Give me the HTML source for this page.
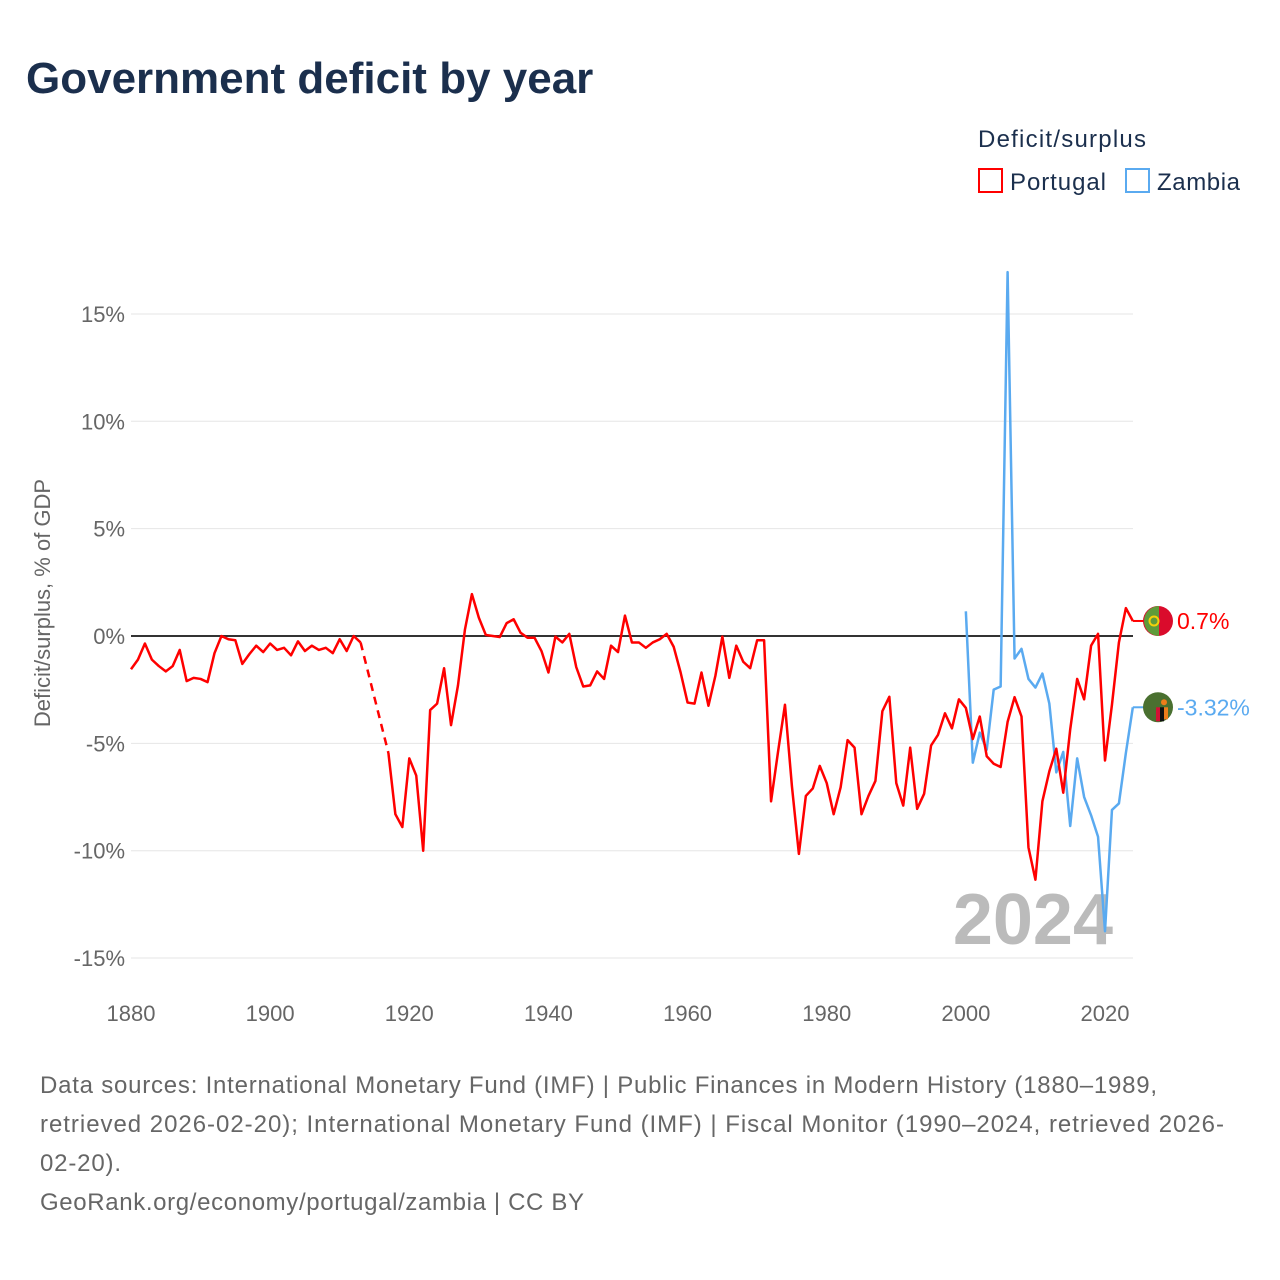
<!DOCTYPE html>
<html><head><meta charset="utf-8"><style>
body{margin:0;background:#fff;font-family:"Liberation Sans","DejaVu Sans",sans-serif;}
#wrap{position:relative;width:1280px;height:1280px;overflow:hidden;}
</style></head><body>
<div id="wrap">
<svg id="svg" width="1280" height="1280" viewBox="0 0 1280 1280">
<text x="26" y="93" font-size="44" font-weight="bold" fill="#1b2f4d">Government deficit by year</text>
<text x="978" y="147" font-size="24" fill="#1b2f4d" textLength="168">Deficit/surplus</text>
<g><rect x="979" y="169" width="23" height="23" fill="none" stroke="#ff0000" stroke-width="2"/><text x="1010" y="190" font-size="24" fill="#1b2f4d" textLength="96">Portugal</text></g>
<g><rect x="1126" y="169" width="23" height="23" fill="none" stroke="#5aaaf0" stroke-width="2"/><text x="1157" y="190" font-size="24" fill="#1b2f4d" textLength="83">Zambia</text></g>
<text transform="translate(50,603) rotate(-90)" text-anchor="middle" font-size="22" fill="#666">Deficit/surplus, % of GDP</text>
<g id="grid"></g><g id="xt"></g>
<text x="1113" y="944" text-anchor="end" font-size="72" font-weight="bold" fill="#bbb">2024</text>
<g id="series"></g>
<g id="ends"></g>
<text x="40" y="1093" font-size="24" fill="#666" textLength="1117">Data sources: International Monetary Fund (IMF) | Public Finances in Modern History (1880–1989,</text>
<text x="40" y="1132" font-size="24" fill="#666" textLength="1184">retrieved 2026-02-20); International Monetary Fund (IMF) | Fiscal Monitor (1990–2024, retrieved 2026-</text>
<text x="40" y="1171" font-size="24" fill="#666" textLength="81">02-20).</text>
<text x="40" y="1210" font-size="24" fill="#666" textLength="544">GeoRank.org/economy/portugal/zambia | CC BY</text>
</svg></div>
<script>
const yTicks=[15,10,5,0,-5,-10,-15];
const xTicks=[1880,1900,1920,1940,1960,1980,2000,2020];
const ptYears=[1880,1881,1882,1883,1884,1885,1886,1887,1888,1889,1890,1891,1892,1893,1894,1895,1896,1897,1898,1899,1900,1901,1902,1903,1904,1905,1906,1907,1908,1909,1910,1911,1912,1913,1917,1918,1919,1920,1921,1922,1923,1924,1925,1926,1927,1928,1929,1930,1931,1932,1933,1934,1935,1936,1937,1938,1939,1940,1941,1942,1943,1944,1945,1946,1947,1948,1949,1950,1951,1952,1953,1954,1955,1956,1957,1958,1959,1960,1961,1962,1963,1964,1965,1966,1967,1968,1969,1970,1971,1972,1973,1974,1975,1976,1977,1978,1979,1980,1981,1982,1983,1984,1985,1986,1987,1988,1989,1990,1991,1992,1993,1994,1995,1996,1997,1998,1999,2000,2001,2002,2003,2004,2005,2006,2007,2008,2009,2010,2011,2012,2013,2014,2015,2016,2017,2018,2019,2020,2021,2022,2023,2024];
const ptValues=[-1.55,-1.1,-0.35,-1.1,-1.4,-1.65,-1.4,-0.65,-2.1,-1.95,-2.0,-2.15,-0.8,0,-0.15,-0.2,-1.3,-0.85,-0.45,-0.75,-0.35,-0.65,-0.55,-0.9,-0.25,-0.7,-0.45,-0.65,-0.55,-0.8,-0.15,-0.7,0,-0.3,-5.45,-8.3,-8.9,-5.7,-6.5,-10,-3.45,-3.15,-1.5,-4.15,-2.3,0.3,1.95,0.85,0.05,0,-0.05,0.6,0.78,0.15,-0.08,-0.08,-0.7,-1.7,-0.03,-0.3,0.1,-1.45,-2.35,-2.3,-1.65,-2.0,-0.45,-0.75,0.95,-0.3,-0.3,-0.55,-0.3,-0.15,0.1,-0.5,-1.7,-3.1,-3.15,-1.7,-3.25,-1.85,-0.03,-1.95,-0.45,-1.2,-1.5,-0.2,-0.2,-7.7,-5.4,-3.2,-7,-10.15,-7.45,-7.1,-6.05,-6.85,-8.3,-7.05,-4.85,-5.2,-8.3,-7.45,-6.75,-3.5,-2.83,-6.85,-7.9,-5.2,-8.05,-7.35,-5.1,-4.6,-3.6,-4.3,-2.95,-3.35,-4.8,-3.75,-5.6,-5.95,-6.1,-4.0,-2.85,-3.75,-9.85,-11.35,-7.7,-6.3,-5.25,-7.3,-4.35,-2.0,-2.95,-0.45,0.1,-5.8,-3.2,-0.3,1.3,0.7];
const zmYears=[2000,2001,2002,2003,2004,2005,2006,2007,2008,2009,2010,2011,2012,2013,2014,2015,2016,2017,2018,2019,2020,2021,2022,2023,2024];
const zmValues=[1.15,-5.9,-4.5,-5.3,-2.5,-2.35,16.95,-1.05,-0.6,-2.0,-2.4,-1.75,-3.15,-6.35,-5.4,-8.85,-5.7,-7.5,-8.35,-9.35,-13.75,-8.1,-7.8,-5.45,-3.32];
const NS='http://www.w3.org/2000/svg';
const X=y=>131+(y-1880)*(974/140);
const Y=v=>636-v*21.47;
function mk(tag,attrs,parent){const e=document.createElementNS(NS,tag);for(const k in attrs)e.setAttribute(k,attrs[k]);parent.appendChild(e);return e;}
const grid=document.getElementById('grid'),xt=document.getElementById('xt'),ser=document.getElementById('series'),ends=document.getElementById('ends');
yTicks.forEach(t=>{
 const l=mk('line',{x1:131,x2:1133,y1:Y(t),y2:Y(t),stroke:t===0?'#333':'#e6e6e6','stroke-width':t===0?2:1},grid);
 
 
 const tx=mk('text',{x:125,y:Y(t)+8,'text-anchor':'end','font-size':22,fill:'#666'},grid);
 tx.textContent=t+'%';
 
 
});
xTicks.forEach(t=>{
 const tx=mk('text',{x:X(t),y:1021,'text-anchor':'middle','font-size':22,fill:'#666'},xt);
 tx.textContent=t;
 
 
});
function draw(years,vals,color,name){
 let seg=[[years[0],vals[0]]];const segs=[seg];const gaps=[];
 for(let i=1;i<years.length;i++){
  if(years[i]-years[i-1]>1){gaps.push([[years[i-1],vals[i-1]],[years[i],vals[i]]]);seg=[];segs.push(seg);}
  seg.push([years[i],vals[i]]);
 }
 segs.forEach(s=>{
  const p=mk('polyline',{points:s.map(d=>X(d[0])+','+Y(d[1])).join(' '),fill:'none',stroke:color,'stroke-width':2.5,'stroke-linejoin':'round'},ser);
  
  
 });
 gaps.forEach(g=>{
  const p=mk('line',{x1:X(g[0][0]),y1:Y(g[0][1]),x2:X(g[1][0]),y2:Y(g[1][1]),stroke:color,'stroke-width':2.5,'stroke-dasharray':'8,6'},ser);
  
  
 });
}
draw(zmYears,zmValues,'#5aaaf0','zambia');
draw(ptYears,ptValues,'#ff0000','portugal');
function endLabel(years,vals,color,name,flag){
 const yr=years[years.length-1],v=vals[vals.length-1];
 const cy=Y(v),cx=1158;
 const l=mk('line',{x1:X(yr),x2:cx-14,y1:cy,y2:cy,stroke:color,'stroke-width':2},ends);
 
 
 const g=mk('g',{},ends);
 
 
 flag(g,cx,cy);
 const t=mk('text',{x:1177,y:cy+8,'font-size':23,fill:color},ends);
 t.textContent=v+'%';
 
 
}
endLabel(ptYears,ptValues,'#ff0000','portugal',(g,cx,cy)=>{
 mk('circle',{cx:cx,cy:cy,r:15,fill:'#da0b2c'},g);
 mk('path',{d:`M${cx+1} ${cy-15} A15 15 0 0 0 ${cx+1} ${cy+15} Z`,fill:'#5f9b3a'},g);
 mk('circle',{cx:cx-4,cy:cy,r:4.5,fill:'none',stroke:'#f5d10a','stroke-width':2},g);
});
endLabel(zmYears,zmValues,'#5aaaf0','zambia',(g,cx,cy)=>{
 mk('circle',{cx:cx,cy:cy,r:15,fill:'#4a7030'},g);
 mk('rect',{x:cx-2,y:cy,width:4,height:14,fill:'#d21034'},g);
 mk('rect',{x:cx+2,y:cy,width:4,height:14,fill:'#111'},g);
 mk('rect',{x:cx+6,y:cy,width:4,height:12,fill:'#ee7d1a'},g);
 mk('circle',{cx:cx+6,cy:cy-5,r:3,fill:'#ee7d1a'},g);
});
</script>
</body></html>
